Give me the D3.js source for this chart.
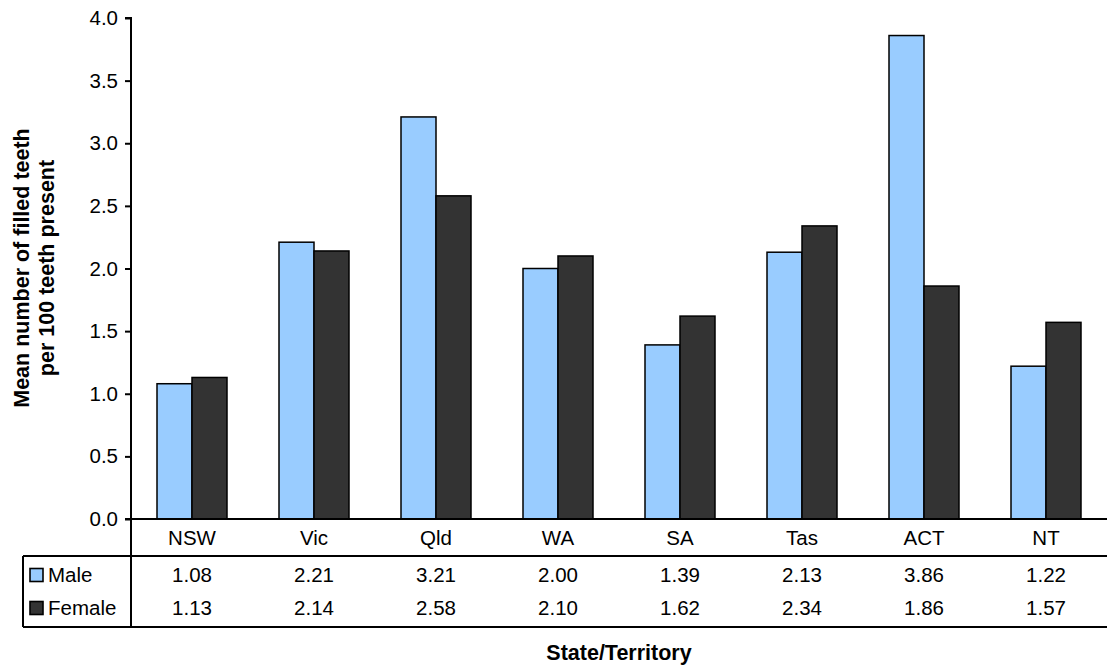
<!DOCTYPE html>
<html><head><meta charset="utf-8">
<script src="https://cdn.jsdelivr.net/npm/d3@7"></script>
<style>body{margin:0;background:#fff}svg{display:block;font-family:"Liberation Sans",Arial,sans-serif}</style>
</head><body><svg id="c" width="1107" height="668"></svg>
<script>
const categories = ["NSW","Vic","Qld","WA","SA","Tas","ACT","NT"];
const male = [1.08,2.21,3.21,2.00,1.39,2.13,3.86,1.22];
const female = [1.13,2.14,2.58,2.10,1.62,2.34,1.86,1.57];
const seriesNames = ["Male","Female"];
const seriesColors = ["#99CCFF","#333333"];
const yTicks = [0,0.5,1,1.5,2,2.5,3,3.5,4];

const FS = 20.5, TFS = 21.5;
const svg = d3.select("#c");
const L = 131, R = 1107, T = 18, B = 519;
const y = d3.scaleLinear().domain([0,4]).range([B,T]);
const x = d3.scaleBand().domain(categories).range([L,R]).paddingInner(0).paddingOuter(0);
const x1 = d3.scaleBand().domain(seriesNames).range([26, 26+70]);
const data = [male, female];

// bars
categories.forEach((c,i)=>{
  seriesNames.forEach((s,j)=>{
    svg.append("rect")
      .attr("x", x(c)+x1(s)).attr("width", x1.bandwidth())
      .attr("y", y(data[j][i])).attr("height", B - y(data[j][i]))
      .attr("fill", seriesColors[j]).attr("stroke","#000").attr("stroke-width",1.5);
  });
});

// y axis
const yAxis = d3.axisLeft(y).tickValues(yTicks).tickFormat(d3.format(".1f")).tickSize(6).tickPadding(7);
const gy = svg.append("g").attr("transform",`translate(${L},0)`).call(yAxis);
gy.select(".domain").attr("stroke","#000").attr("stroke-width",2).attr("d",`M-6,${T}H0V${B}H-6`);
gy.selectAll(".tick line").attr("stroke","#000").attr("stroke-width",2);
gy.selectAll("text").attr("font-size",FS).attr("fill","#000").style("font-family","Liberation Sans, Arial, sans-serif");

// baseline
svg.append("line").attr("x1",L).attr("x2",R).attr("y1",B).attr("y2",B).attr("stroke","#000").attr("stroke-width",2);

// category labels
svg.selectAll(".cat").data(categories).enter().append("text")
  .attr("x", d=>x(d)+x.bandwidth()/2).attr("y",545).attr("text-anchor","middle")
  .attr("font-size",FS).attr("fill","#000").text(d=>d);

// table
const tblTop = 556, tblBot = 627, tblLeft = 23;
svg.append("line").attr("x1",tblLeft).attr("x2",R).attr("y1",tblTop).attr("y2",tblTop).attr("stroke","#000").attr("stroke-width",2);
svg.append("line").attr("x1",tblLeft).attr("x2",R).attr("y1",tblBot).attr("y2",tblBot).attr("stroke","#000").attr("stroke-width",2);
svg.append("line").attr("x1",tblLeft).attr("x2",tblLeft).attr("y1",tblTop).attr("y2",tblBot).attr("stroke","#000").attr("stroke-width",2);
svg.append("line").attr("x1",L).attr("x2",L).attr("y1",B).attr("y2",tblBot).attr("stroke","#000").attr("stroke-width",2);

const rowBase = [582, 615];
seriesNames.forEach((s,j)=>{
  svg.append("rect").attr("x",30).attr("y",rowBase[j]-13.5).attr("width",13).attr("height",13)
    .attr("fill",seriesColors[j]).attr("stroke","#000").attr("stroke-width",1.6);
  svg.append("text").attr("x",48).attr("y",rowBase[j]).attr("font-size",FS).attr("fill","#000").text(s);
  svg.selectAll(".v"+j).data(data[j]).enter().append("text")
    .attr("x",(d,i)=>x(categories[i])+x.bandwidth()/2).attr("y",rowBase[j])
    .attr("text-anchor","middle").attr("font-size",FS).attr("fill","#000")
    .text(d=>d.toFixed(2));
});

// titles
svg.append("text").attr("x",619).attr("y",660).attr("text-anchor","middle")
  .attr("font-size",TFS).attr("font-weight","bold").text("State/Territory");
const yt = svg.append("text").attr("transform",`translate(0,268) rotate(-90)`)
  .attr("text-anchor","middle").attr("font-size",TFS).attr("font-weight","bold");
yt.append("tspan").attr("x",0).attr("y",29).text("Mean number of filled teeth");
yt.append("tspan").attr("x",0).attr("y",54).text("per 100 teeth present");
</script></body></html>
